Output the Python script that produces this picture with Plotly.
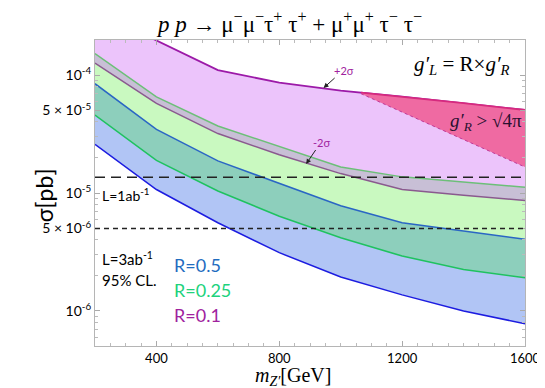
import numpy as np
import plotly.graph_objects as go

# Z' mass grid [GeV]
masses = [200, 400, 600, 800, 1000, 1200, 1400, 1600]

# cross-section limits [pb]
r01_plus2 = [3.5e-4, 1.95e-4, 1.10e-4, 8.6e-5, 7.36e-5, 6.54e-5, 5.77e-5, 5.05e-5]
r01_minus2 = [1.26e-4, 5.74e-5, 3.19e-5, 2.11e-5, 1.46e-5, 1.07e-5, 9.58e-6, 8.65e-6]
r025_upper = [1.52e-4, 6.52e-5, 3.70e-5, 2.47e-5, 1.66e-5, 1.37e-5, 1.24e-5, 1.12e-5]
r025_lower = [4.58e-5, 1.89e-5, 1.04e-5, 6.35e-6, 4.18e-6, 2.92e-6, 2.25e-6, 1.91e-6]
r05_upper = [8.44e-5, 3.46e-5, 1.87e-5, 1.20e-5, 7.80e-6, 5.60e-6, 4.76e-6, 4.05e-6]
r05_lower = [2.58e-5, 1.07e-5, 5.60e-6, 3.12e-6, 1.94e-6, 1.37e-6, 1.00e-6, 7.8e-7]

# non-perturbative region g'_R > sqrt(4 pi)
pert_masses = [1066, 1200, 1400, 1600]
pert_lower = [6.95e-5, 4.85e-5, 2.83e-5, 1.66e-5]

# luminosity reference lines
lumi_1ab = 1.36e-5
lumi_3ab = 5e-6

W, H = 545, 388
L, R, T, B = 87, 14, 32, 50


def paper(px, py):
    """pixel position -> paper coordinates"""
    return (px - L) / (W - L - R), (H - B - py) / (H - T - B)


fig = go.Figure()

# stacked bands, bottom to top, each filled to the previous curve
bands = [
    (r05_lower, None, "#1c1ce0", 1.5),
    (r025_lower, "#b1c5f5", "#1fc260", 1.5),
    (r05_upper, "#8dcfbc", "#2a66c4", 1.5),
    (r01_minus2, "#c9f9c0", "#8a5a8e", 1.5),
    (r025_upper, "#c8bfd6", "#6cbf78", 1.5),
    (r01_plus2, "#ecc4fb", "#9c1aa8", 1.8),
]
for ys, fillc, linec, lw in bands:
    fig.add_trace(go.Scatter(
        x=masses, y=ys, mode="lines",
        line=dict(color=linec, width=lw),
        fill="tonexty" if fillc else None,
        fillcolor=fillc, showlegend=False, hoverinfo="skip"))

# pink region between +2sigma and the perturbativity bound
log_upper = np.interp(pert_masses, masses, np.log10(r01_plus2))
pert_upper = list(10 ** log_upper)
fig.add_trace(go.Scatter(
    x=pert_masses + pert_masses[::-1],
    y=pert_upper + pert_lower[::-1],
    mode="lines", fill="toself", fillcolor="#ef6aa2",
    line=dict(width=0), showlegend=False, hoverinfo="skip"))
fig.add_trace(go.Scatter(
    x=pert_masses, y=pert_upper, mode="lines",
    line=dict(color="#d62a7e", width=1.8), showlegend=False))
fig.add_trace(go.Scatter(
    x=pert_masses, y=pert_lower, mode="lines",
    line=dict(color="#c03a9a", width=1, dash="dot"), showlegend=False))

# luminosity lines
fig.add_hline(y=lumi_1ab, line=dict(color="#222222", width=1.3, dash="10px,6px"))
fig.add_hline(y=lumi_3ab, line=dict(color="#222222", width=1.3, dash="5px,4px"))

minor_y = [m * 10.0 ** k for k in (-7, -6, -5, -4) for m in range(2, 10)]

fig.update_layout(
    width=W, height=H,
    margin=dict(l=L, r=R, t=T, b=B),
    plot_bgcolor="white", paper_bgcolor="white",
    font=dict(family="Lato", size=14, color="black"),
    xaxis=dict(
        range=[200, 1600], tickvals=[400, 800, 1200, 1600],
        ticks="inside", ticklen=5, tickcolor="#aaaaaa",
        showline=True, linecolor="#b5b5b5", mirror="ticks",
        showgrid=False, zeroline=False, ticklabeloverflow="allow",
        minor=dict(dtick=50, ticks="inside", ticklen=3, tickcolor="#bbbbbb"),
        tickfont=dict(size=13)),
    yaxis=dict(
        type="log", range=[np.log10(5.05e-7), np.log10(1.98e-4)],
        tickvals=[1e-6, 5e-6, 1e-5, 5e-5, 1e-4],
        ticktext=["10<sup>-6</sup>", "5 × 10<sup>-6</sup>", "10<sup>-5</sup>",
                  "5 × 10<sup>-5</sup>", "10<sup>-4</sup>"],
        ticks="inside", ticklen=5, tickcolor="#aaaaaa",
        showline=True, linecolor="#b5b5b5", mirror="ticks",
        showgrid=False, zeroline=False,
        minor=dict(tickvals=minor_y, ticks="inside", ticklen=3, tickcolor="#bbbbbb"),
        tickfont=dict(size=14)),
)

serif = "Liberation Serif"
texts = [
    (287, 15, "<i>p p</i> → μ<sup>−</sup>μ<sup>−</sup>τ<sup>+</sup> τ<sup>+</sup> + "
              "μ<sup>+</sup>μ<sup>+</sup> τ<sup>−</sup> τ<sup>−</sup>",
     dict(family=serif, size=23, color="black"), "center"),
    (291, 368, "<i>m</i><sub><i>Z′</i></sub>[GeV]",
     dict(family=serif, size=20, color="black"), "center"),
    (466, 57, "<i>g′<sub>L</sub></i> = R×<i>g′<sub>R</sub></i>",
     dict(family=serif, size=21, color="black"), "center"),
    (491, 114, "<i>g′<sub>R</sub></i> > √4π",
     dict(family=serif, size=19, color="#2a1030"), "center"),
    (92, 186, "L=1ab<sup>-1</sup>", dict(size=14, color="black"), "left"),
    (92, 250, "L=3ab<sup>-1</sup>", dict(size=15, color="black"), "left"),
    (92, 272, "95% CL.", dict(size=15, color="black"), "left"),
    (167, 257, "R=0.5", dict(size=18, color="#1f6cc0"), "left"),
    (167, 282, "R=0.25", dict(size=18, color="#20d27c"), "left"),
    (167, 307, "R=0.1", dict(size=18, color="#a0229e"), "left"),
]
for px, py, txt, fnt, xanc in texts:
    xp, yp = paper(px, py)
    fig.add_annotation(x=xp, y=yp, xref="paper", yref="paper", text=txt,
                       showarrow=False, font=fnt, xanchor=xanc, yanchor="middle")

xp, yp = paper(18, 187)
fig.add_annotation(x=xp, y=yp, xref="paper", yref="paper", text="σ[pb]",
                   showarrow=False, textangle=-90, font=dict(size=23, color="black"))

# sigma arrows
for tip, off, label in [((323, 80), (20, -18), "+2σ"), ((305, 156), (15, -22), "-2σ")]:
    xp, yp = paper(*tip)
    fig.add_annotation(x=xp, y=yp, xref="paper", yref="paper", text=label,
                       showarrow=True, ax=off[0], ay=off[1], arrowhead=2,
                       arrowsize=1, arrowwidth=1, arrowcolor="#222222",
                       font=dict(size=11, color="#a0229e"))

fig.write_html("out.html")
